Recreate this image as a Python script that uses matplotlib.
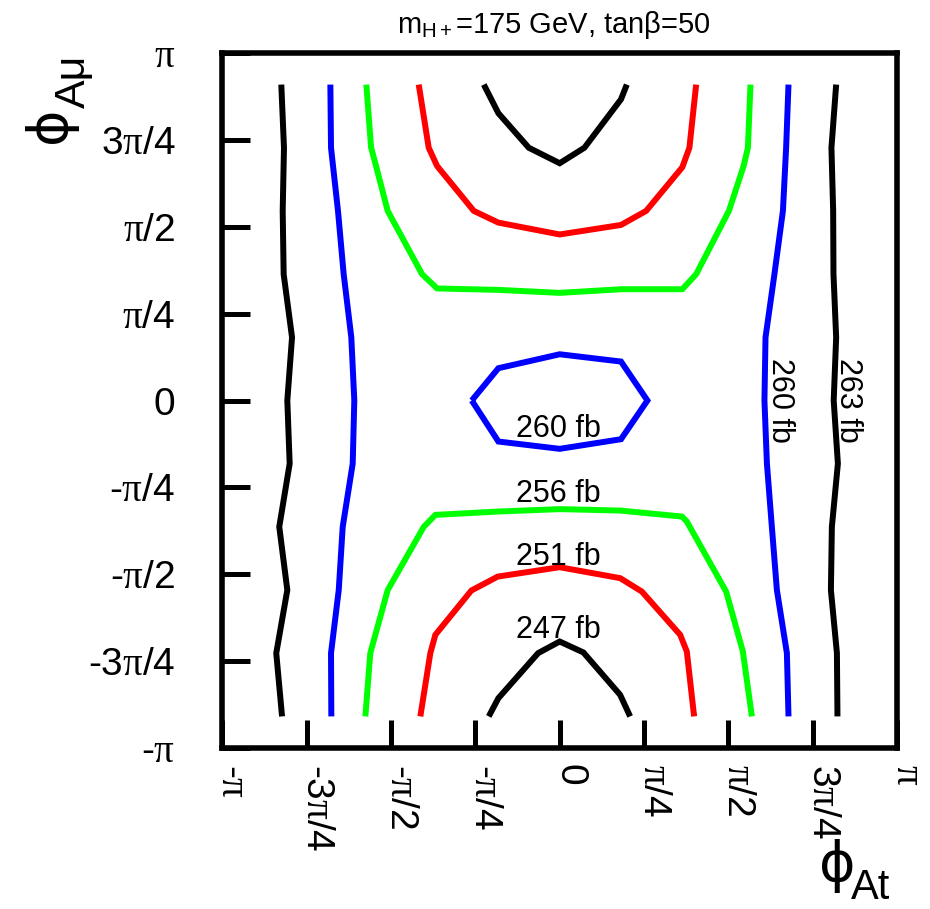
"""Contours of the cross section in the (phi_At, phi_Amu) plane."""

import matplotlib

matplotlib.use("Agg")
import matplotlib.pyplot as plt
import numpy as np
from matplotlib.transforms import offset_copy

plt.rcParams["font.family"] = ["Liberation Sans", "DejaVu Sans"]
plt.rcParams["mathtext.fontset"] = "custom"
plt.rcParams["mathtext.rm"] = "Liberation Sans"
plt.rcParams["mathtext.it"] = "Liberation Serif"  # upright serif pi like the Symbol font
plt.rcParams["mathtext.bf"] = "Liberation Sans:bold"

# grid rows the near-vertical contours pass through (rad), top to bottom
rows = [2.856, 2.285, 1.714, 1.142, 0.571, 0.0, -0.571, -1.142, -1.714, -2.284, -2.856]

# 263 fb
black_left_x = [-2.593, -2.568, -2.580, -2.571, -2.493, -2.537, -2.515, -2.612, -2.537, -2.640, -2.586]
black_right_x = [2.575, 2.531, 2.547, 2.550, 2.575, 2.552, 2.591, 2.535, 2.526, 2.582, 2.587]

# 260 fb
blue_left_x = [-2.136, -2.130, -2.065, -2.012, -1.941, -1.913, -1.928, -2.021, -2.058, -2.130, -2.127]
blue_right_x = [2.131, 2.109, 2.079, 2.000, 1.917, 1.907, 1.930, 1.976, 2.023, 2.116, 2.131]
blue_mid_x = [-0.819, -0.571, 0.0, 0.571, 0.817, 0.571, 0.0, -0.571, -0.819]
blue_mid_y = [0.0, 0.292, 0.418, 0.352, 0.0, -0.350, -0.437, -0.371, 0.0]

# 256 fb
green_top_x = [-1.801, -1.757, -1.713, -1.602, -1.282, -1.142, -0.571, 0.0, 0.571, 1.142, 1.271, 1.576, 1.713, 1.753, 1.777]
green_top_y = [2.856, 2.289, 2.129, 1.714, 1.142, 1.013, 1.000, 0.973, 1.006, 1.006, 1.142, 1.714, 2.120, 2.285, 2.856]
green_bot_x = [-1.810, -1.764, -1.717, -1.602, -1.266, -1.158, -0.577, 0.0, 0.563, 1.138, 1.184, 1.550, 1.706, 1.790]
green_bot_y = [-2.856, -2.284, -2.118, -1.714, -1.142, -1.034, -1.004, -0.982, -0.995, -1.049, -1.094, -1.727, -2.269, -2.856]

# 251 fb
red_top_x = [-1.313, -1.220, -1.142, -0.800, -0.571, 0.0, 0.571, 0.805, 1.142, 1.208, 1.271]
red_top_y = [2.856, 2.285, 2.120, 1.714, 1.608, 1.501, 1.587, 1.714, 2.109, 2.285, 2.856]
red_bot_x = [-1.298, -1.205, -1.158, -0.823, -0.577, 0.0, 0.563, 0.765, 1.122, 1.184, 1.252]
red_bot_y = [-2.856, -2.284, -2.118, -1.718, -1.592, -1.507, -1.606, -1.727, -2.118, -2.269, -2.856]

# 247 fb
black_top_x = [-0.707, -0.571, -0.288, 0.0, 0.230, 0.571, 0.625]
black_top_y = [2.856, 2.597, 2.285, 2.145, 2.285, 2.723, 2.856]
black_bot_x = [-0.661, -0.571, -0.201, 0.0, 0.221, 0.563, 0.656]
black_bot_y = [-2.856, -2.691, -2.284, -2.179, -2.278, -2.661, -2.856]

# contour labels: text, x, y, rotation
label_text = ["260 fb", "256 fb", "251 fb", "247 fb", "260 fb", "263 fb"]
label_x = [-0.015, -0.015, -0.015, -0.015, 2.053, 2.687]
label_y = [-0.257, -0.844, -1.414, -2.074, 0.0, 0.0]
label_rot = [0, 0, 0, 0, 270, 270]

tick_pos = [-np.pi, -3 * np.pi / 4, -np.pi / 2, -np.pi / 4, 0, np.pi / 4, np.pi / 2, 3 * np.pi / 4, np.pi]
tick_labels = ["-$\\pi$", "-3$\\pi$/4", "-$\\pi$/2", "-$\\pi$/4", "0",
               "$\\pi$/4", "$\\pi$/2", "3$\\pi$/4", "$\\pi$"]

W, H = 930, 909
fig = plt.figure(figsize=(W / 100, H / 100), dpi=100)
ax = fig.add_axes([222.4 / W, 1 - 748 / H, (897 - 222.4) / W, (748 - 53) / H])

lw = 4.3
style = dict(lw=lw, solid_capstyle="butt", solid_joinstyle="miter")
ax.plot(black_left_x, rows, color="black", **style)
ax.plot(black_right_x, rows, color="black", **style)
ax.plot(blue_left_x, rows, color="blue", **style)
ax.plot(blue_right_x, rows, color="blue", **style)
ax.plot(blue_mid_x, blue_mid_y, color="blue", **style)
ax.plot(green_top_x, green_top_y, color="#00ff00", **style)
ax.plot(green_bot_x, green_bot_y, color="#00ff00", **style)
ax.plot(red_top_x, red_top_y, color="red", **style)
ax.plot(red_bot_x, red_bot_y, color="red", **style)
ax.plot(black_top_x, black_top_y, color="black", **style)
ax.plot(black_bot_x, black_bot_y, color="black", **style)

for txt, x, y, rot in zip(label_text, label_x, label_y, label_rot):
    ax.text(x, y, txt, fontsize=22, rotation=rot, ha="center", va="center", zorder=5)

ax.set_xlim(-np.pi, np.pi)
ax.set_ylim(-np.pi, np.pi)
for sp in ax.spines.values():
    sp.set_linewidth(4)

ax.set_xticks(tick_pos)
ax.set_yticks(tick_pos, tick_labels)
ax.tick_params(direction="in", length=20, width=3.6, top=False, right=False,
               labelbottom=False, labelsize=28)
ax.tick_params(axis="y", pad=34)

# x tick labels read downwards, baseline on the tick
xlab_trans = offset_copy(ax.get_xaxis_transform(), fig=fig, y=-11.5, units="points")
for pos, lab in zip(tick_pos, tick_labels):
    ax.text(pos, 0, lab, transform=xlab_trans, fontsize=28, rotation=270,
            rotation_mode="anchor", ha="left", va="baseline", clip_on=False)

# axis titles
fig.text(50 / W, 1 - 125 / H, "\u03d5", rotation=90, ha="center", va="center",
         fontsize=40, family="DejaVu Sans")
fig.text(85 / W, 1 - 108 / H, "A\u03bc", rotation=90, rotation_mode="anchor",
         ha="left", va="baseline", fontsize=31)
fig.text(837 / W, 1 - 866 / H, "\u03d5", ha="center", va="center",
         fontsize=40, family="DejaVu Sans")
fig.text(851 / W, 1 - 899 / H, "At", ha="left", va="baseline", fontsize=30)

fig.text(554 / W, 1 - 33 / H, "m$_{\\mathrm{H+}}$=175 GeV, tan\u03b2=50",
         ha="center", va="baseline", fontsize=21)

fig.savefig("out.png", dpi=100)
